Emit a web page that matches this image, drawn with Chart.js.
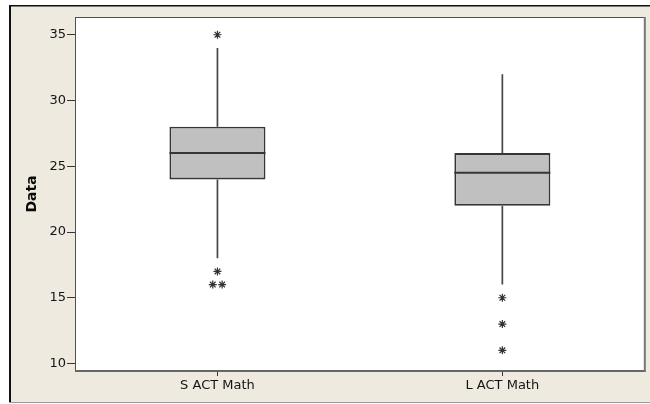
<!DOCTYPE html>
<html>
<head>
<meta charset="utf-8">
<script src="https://cdn.jsdelivr.net/npm/chart.js@4/dist/chart.umd.min.js"></script>
<style>
  html, body { margin: 0; padding: 0; background: #ffffff; }
  #wrap { width: 650px; height: 404px; position: relative; }
</style>
</head>
<body>
<div id="wrap"><canvas id="chart" width="650" height="404"></canvas></div>
<script>
// Five-number summaries for each group
const categories = ['S ACT Math', 'L ACT Math'];
const whiskerLow = [18, 16];
const q1 = [24, 22];
const median = [26, 24.5];
const q3 = [28, 26];
const whiskerHigh = [34, 32];
// Points beyond the whiskers
const outliers = [[35, 17, 16, 16], [15, 13, 11]];
const yTicks = [10, 15, 20, 25, 30, 35];

const FONT = "'DejaVu Sans', Verdana, sans-serif";
const TEXT = '#141414';
const INK = '#363636';

// Repeated outlier values are spread sideways so each one stays visible
function outlierPoints() {
  const pts = [];
  outliers.forEach((vals, gi) => {
    const counts = {};
    vals.forEach(v => { counts[v] = (counts[v] || 0) + 1; });
    const seen = {};
    vals.forEach(v => {
      const n = counts[v];
      const k = seen[v] || 0;
      seen[v] = k + 1;
      pts.push({ x: gi + (k - (n - 1) / 2) * 0.033, y: v });
    });
  });
  return pts;
}

const framePlugin = {
  id: 'frame',
  beforeDraw(chart) {
    const ctx = chart.ctx;
    const W = chart.width, H = chart.height;
    ctx.save();
    ctx.fillStyle = '#ffffff';
    ctx.fillRect(0, 0, W, H);
    ctx.fillStyle = '#eeeae0';
    ctx.fillRect(10, 6, W - 10, 396);
    ctx.fillStyle = '#111111';
    ctx.fillRect(9, 5, W - 9, 1.5);
    ctx.fillRect(9, 5, 2, 397);
    ctx.fillStyle = '#9a9a9a';
    ctx.fillRect(9, 402, W - 9, 1);
    const a = chart.chartArea;
    ctx.fillStyle = '#ffffff';
    ctx.fillRect(a.left, a.top, a.right - a.left, a.bottom - a.top);
    ctx.restore();
  },
  beforeDatasetsDraw(chart) {
    // whisker stems, drawn under the boxes
    const ctx = chart.ctx;
    const xs = chart.scales.x, ys = chart.scales.y;
    ctx.save();
    ctx.strokeStyle = '#474747';
    ctx.lineWidth = 1.7;
    categories.forEach((c, i) => {
      const x = xs.getPixelForValue(i);
      ctx.beginPath();
      ctx.moveTo(x, ys.getPixelForValue(q3[i]));
      ctx.lineTo(x, ys.getPixelForValue(whiskerHigh[i]));
      ctx.moveTo(x, ys.getPixelForValue(q1[i]));
      ctx.lineTo(x, ys.getPixelForValue(whiskerLow[i]));
      ctx.stroke();
    });
    ctx.restore();
  },
  afterDatasetsDraw(chart) {
    // median lines across each box
    const ctx = chart.ctx;
    const ys = chart.scales.y;
    const meta = chart.getDatasetMeta(0);
    ctx.save();
    ctx.strokeStyle = INK;
    ctx.lineWidth = 2;
    meta.data.forEach((bar, i) => {
      const half = bar.width / 2;
      const y = ys.getPixelForValue(median[i]);
      ctx.beginPath();
      ctx.moveTo(bar.x - half, y);
      ctx.lineTo(bar.x + half, y);
      ctx.stroke();
    });
    ctx.restore();
  },
  afterDraw(chart) {
    const ctx = chart.ctx;
    const a = chart.chartArea;
    ctx.save();
    ctx.fillStyle = '#505050';
    ctx.fillRect(a.left, a.top, a.right - a.left, 1);
    ctx.fillRect(a.left, a.top, 1, a.bottom - a.top);
    ctx.fillStyle = '#666666';
    ctx.fillRect(a.left, a.bottom - 1, a.right - a.left + 1, 2);
    ctx.fillStyle = '#777777';
    ctx.fillRect(a.right - 1, a.top, 2, a.bottom - a.top + 1);
    ctx.restore();
  }
};

new Chart(document.getElementById('chart'), {
  type: 'bar',
  data: {
    labels: categories,
    datasets: [
      {
        label: 'Box',
        data: categories.map((c, i) => [q1[i], q3[i]]),
        backgroundColor: '#c0c0c0',
        borderColor: INK,
        borderWidth: 1.8,
        borderSkipped: false,
        grouped: false,
        barPercentage: 0.337,
        categoryPercentage: 1,
        xAxisID: 'x',
        yAxisID: 'y'
      },
      {
        type: 'scatter',
        label: 'Outliers',
        data: outlierPoints(),
        xAxisID: 'xo',
        yAxisID: 'y',
        showLine: false,
        pointStyle: 'star',
        pointRadius: 4,
        pointBorderWidth: 1.2,
        borderColor: '#333333',
        backgroundColor: '#333333'
      }
    ]
  },
  options: {
    responsive: false,
    animation: false,
    devicePixelRatio: 1,
    layout: { padding: { left: 10, top: 17, right: 5, bottom: 0 } },
    plugins: { legend: { display: false }, tooltip: { enabled: false } },
    scales: {
      x: {
        type: 'category',
        offset: true,
        grid: { offset: false, drawOnChartArea: false, drawTicks: true, tickLength: 5, color: INK, lineWidth: 1 },
        border: { display: false },
        ticks: { font: { family: FONT, size: 13 }, color: TEXT, padding: 2, maxRotation: 0 },
        afterFit(s) { s.height = 33; }
      },
      xo: {
        type: 'linear',
        axis: 'x',
        position: 'bottom',
        offset: false,
        min: -0.5,
        max: 1.5,
        display: false
      },
      y: {
        type: 'linear',
        min: 9.43,
        max: 36.35,
        afterBuildTicks(s) { s.ticks = yTicks.map(v => ({ value: v })); },
        grid: { drawOnChartArea: false, drawTicks: true, tickLength: 8, color: INK, lineWidth: 1 },
        border: { display: false },
        ticks: { font: { family: FONT, size: 13 }, color: TEXT, padding: 1 },
        title: {
          display: true,
          text: 'Data',
          color: '#0a0a0a',
          font: { family: FONT, size: 14, weight: 'bold' },
          padding: { top: 14, bottom: 0 }
        },
        afterFit(s) { s.width = 65; }
      }
    }
  },
  plugins: [framePlugin]
});
</script>
</body>
</html>
